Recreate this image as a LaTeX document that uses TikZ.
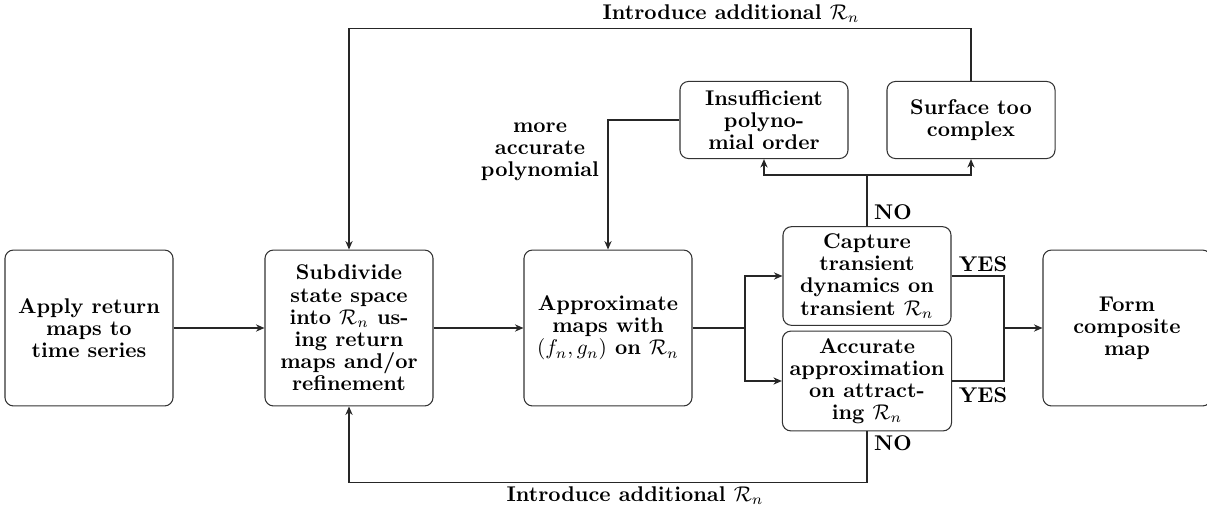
\documentclass[tikz,border=0pt]{standalone}
\usepackage{amsmath, amssymb}
\usepackage{tikz}
\usetikzlibrary{arrows.meta, positioning, calc}

\begin{document}
\begin{tikzpicture}[
  x=0.4695pt, y=-0.4695pt,
  box/.style={rectangle, rounded corners=4pt, draw=black!80, line width=0.5pt,
    minimum width=78.9pt, minimum height=73.2pt, align=center,
    font=\fontsize{10}{10.4}\selectfont\bfseries},
  midbox/.style={box, minimum height=45.1pt},
  topbox/.style={box, minimum height=36.2pt},
  arrow/.style={-{Stealth[length=4pt, width=3.4pt]}, line width=0.5pt, black!85},
  line/.style={line width=0.5pt, black!85},
  lbl/.style={font=\fontsize{10}{10.4}\selectfont\bfseries, align=center, inner sep=1pt}
]
\useasboundingbox (0,0) rectangle (1207,510);

% Main row
\node[box] (apply) at (89, 328) {Apply return\\maps to\\time series};
\node[box] (subd) at (349, 328) {Subdivide\\state space\\into $\mathcal{R}_n$ us-\\ing return\\maps and/or\\refinement};
\node[box] (approx) at (608, 328) {Approximate\\maps with\\$(f_n, g_n)$ on $\mathcal{R}_n$};
\node[box] (form) at (1127, 328) {Form\\composite\\map};

% Checks
\node[midbox] (capture) at (867, 276) {Capture\\transient\\dynamics on\\transient $\mathcal{R}_n$};
\node[midbox] (accur) at (867, 381) {Accurate\\approximation\\on attract-\\ing $\mathcal{R}_n$};

% Failure causes
\node[topbox] (insuff) at (764, 120) {Insufficient\\polyno-\\mial order};
\node[topbox] (surf) at (971, 120) {Surface too\\complex};

% Junctions
\coordinate (split) at (745, 328);
\coordinate (join) at (1004, 328);
\coordinate (fork) at (867, 175);

% Arrows
\draw[arrow] (apply) -- (subd);
\draw[line] (approx) -- (split);
\draw[arrow] (split) |- (capture);
\draw[arrow] (split) |- (accur);
\draw[line] (capture) -| (join);
\draw[line] (accur) -| (join);
\draw[arrow] (join) -- (form);
\draw[arrow] (subd) -- (approx);
\draw[line] (capture) -- (fork);
\draw[arrow] (fork) -| (insuff);
\draw[arrow] (fork) -| (surf);
\draw[arrow] (insuff.west) -| (approx.north);
\draw[arrow] (surf.north) |- ++(0,-52) -| (subd.north);
\draw[arrow] (accur.south) |- ++(0,51) -| (subd.south);

% Labels
\node[lbl] (ltop) at (731, 14) {Introduce additional $\mathcal{R}_n$};
\node[lbl] (lbot) at (635, 496) {Introduce additional $\mathcal{R}_n$};
\node[lbl] (lpoly) at (540, 152) {more\\accurate\\polynomial};
\node[lbl] (notop) at (893, 212) {NO};
\node[lbl] (nobot) at (893, 443) {NO};
\node[lbl] (yestop) at (983, 264) {YES};
\node[lbl] (yesbot) at (983, 395) {YES};
\end{tikzpicture}
\end{document}
